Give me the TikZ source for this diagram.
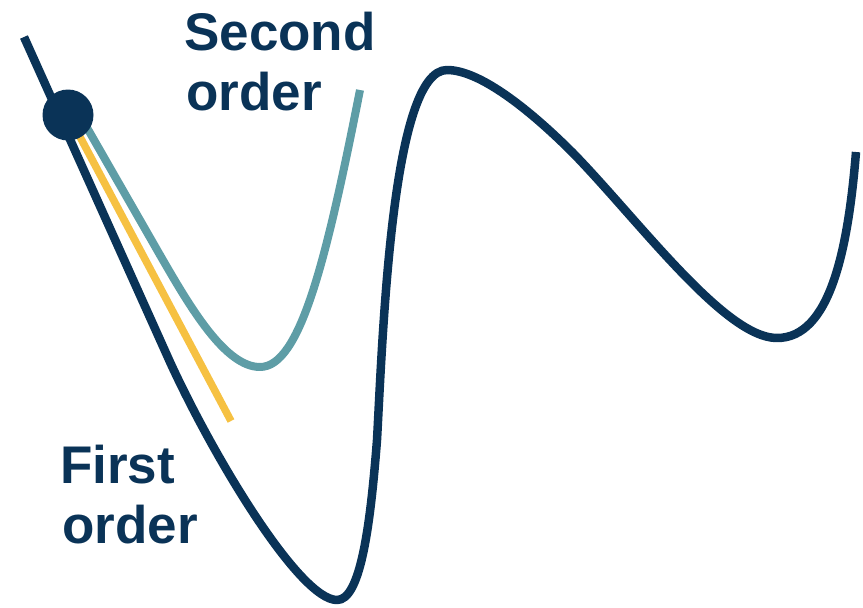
\documentclass[tikz,border=0pt]{standalone}
\usepackage{fontspec}
\setmainfont{Liberation Sans}
\definecolor{navy}{HTML}{0A3357}
\definecolor{tealc}{HTML}{5E9DA6}
\definecolor{yellowc}{HTML}{F6C142}
\begin{document}
\begin{tikzpicture}[x=1pt,y=-1pt,
  curvedark/.style={draw=navy,line width=8.5pt,line cap=butt,line join=round},
  curveteal/.style={draw=tealc,line width=8pt,line cap=butt,line join=round},
  curveyellow/.style={draw=yellowc,line width=7.5pt,line cap=butt},
  lbl/.style={anchor=base west,inner sep=0pt,text=navy,font=\fontsize{53}{60}\selectfont\bfseries}]
\useasboundingbox (0,0) rectangle (863,608);
% landscape curve
\coordinate (d0) at (24,37);
\coordinate (d1) at (170,362);
\coordinate (dmin) at (337,600);
\coordinate (d2) at (377,440);
\coordinate (dtop) at (447,70);
\coordinate (d3) at (573,153);
\coordinate (dmin2) at (777,338);
\coordinate (d4) at (856,152);
\draw[curvedark] (d0) -- (d1)
  .. controls (215,460) and (300,600) .. (dmin)
  .. controls (360,600) and (370,530) .. (d2)
  .. controls (383,330) and (392,70) .. (dtop)
  .. controls (480,70) and (530,110) .. (d3)
  .. controls (640,222) and (725,338) .. (dmin2)
  .. controls (830,338) and (848,250) .. (d4);
% first order
\coordinate (y0) at (70,118);
\coordinate (y1) at (231,421);
\draw[curveyellow] (y0) -- (y1);
% second order
\coordinate (t0) at (78,112);
\coordinate (t1) at (160,255);
\coordinate (tmin) at (260,367);
\coordinate (t3) at (360,90);
\draw[curveteal] (t0) -- (t1)
  .. controls (190,307) and (225,367) .. (tmin)
  .. controls (300,367) and (326,262) .. (t3);
% point
\node[circle,fill=navy,minimum size=51pt,inner sep=0pt] (pt) at (68,115) {};
% labels
\node[lbl] (sec1) at (184,50) {Second};
\node[lbl] (sec2) at (186,110) {order};
\node[lbl] (fir1) at (60,483) {First};
\node[lbl] (fir2) at (62,543) {order};
\end{tikzpicture}
\end{document}
